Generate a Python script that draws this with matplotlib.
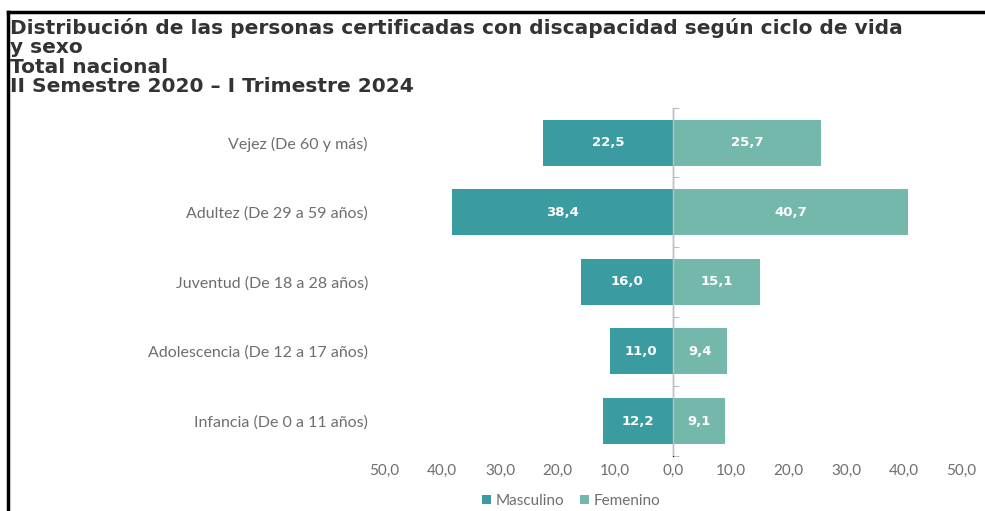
import numpy as np
import matplotlib.pyplot as plt
from matplotlib.lines import Line2D
from matplotlib.ticker import FuncFormatter

categorias = ['Vejez (De 60 y más)', 'Adultez (De 29 a 59 años)', 'Juventud (De 18 a 28 años)',
              'Adolescencia (De 12 a 17 años)', 'Infancia (De 0 a 11 años)']
masculino = [22.5, 38.4, 16.0, 11.0, 12.2]
femenino = [25.7, 40.7, 15.1, 9.4, 9.1]
ticks_x = [-50, -40, -30, -20, -10, 0, 10, 20, 30, 40, 50]

c_masc = '#3A9CA1'
c_fem = '#74B8AC'
gris = '#6E6E6E'

fig = plt.figure(figsize=(9.85, 5.11), dpi=100)
ax = fig.add_axes([0.3905, 0.108, 0.5855, 0.681])

y = np.arange(len(categorias))
h = 0.66
b1 = ax.barh(y, [-v for v in masculino], height=h, color=c_masc, label='Masculino')
b2 = ax.barh(y, femenino, height=h, color=c_fem, label='Femenino')

fmt = lambda v: f'{v:.1f}'.replace('.', ',')
ax.bar_label(b1, labels=[fmt(v) for v in masculino], label_type='center',
             color='white', fontweight='bold', fontsize=9.5)
ax.bar_label(b2, labels=[fmt(v) for v in femenino], label_type='center',
             color='white', fontweight='bold', fontsize=9.5)

ax.set_xlim(-50, 50)
ax.set_ylim(len(categorias) - 0.5, -0.5)
ax.set_xticks(ticks_x)
ax.xaxis.set_major_formatter(FuncFormatter(lambda v, p: fmt(abs(v))))
ax.set_yticks(y)
ax.set_yticklabels(categorias)
ax.tick_params(axis='y', length=0, pad=12, labelsize=11.5, labelcolor=gris)
ax.tick_params(axis='x', length=0, pad=6, labelsize=11, labelcolor=gris)
for lab in ax.get_xticklabels() + ax.get_yticklabels():
    lab.set_fontfamily('Lato')
for s in ax.spines.values():
    s.set_visible(False)

# eje central con marcas entre categorias
eje = ax.secondary_yaxis(0.5)
eje.set_yticks(np.arange(-0.5, len(categorias), 1.0))
eje.set_yticklabels([])
eje.tick_params(length=4, color='#BFBFBF', direction='out')
eje.spines['left'].set_color('#BFBFBF')
ax.axvline(0, color='#BFBFBF', lw=1, zorder=3)

leg = fig.legend(handles=[b1, b2], loc='center', bbox_to_anchor=(0.58, 0.02), ncol=2,
                 frameon=False, handlelength=0.6, handleheight=0.6, handletextpad=0.3,
                 columnspacing=1.0, prop={'family': 'Lato', 'size': 11})
for t in leg.get_texts():
    t.set_color(gris)

titulo = ('Distribución de las personas certificadas con discapacidad según ciclo de vida\n'
          'y sexo\nTotal nacional\nII Semestre 2020 – I Trimestre 2024')
fig.text(0.010, 0.965, titulo, ha='left', va='top', fontsize=14.5, fontweight='bold',
         color='#333333', linespacing=1.03)

# marco negro de la captura
fig.add_artist(Line2D([0.008, 1.0], [0.976, 0.976], color='black', lw=2.5))
fig.add_artist(Line2D([0.008, 0.008], [0.0, 0.976], color='black', lw=2.5))

fig.savefig('out.png', dpi=100, facecolor='white')
